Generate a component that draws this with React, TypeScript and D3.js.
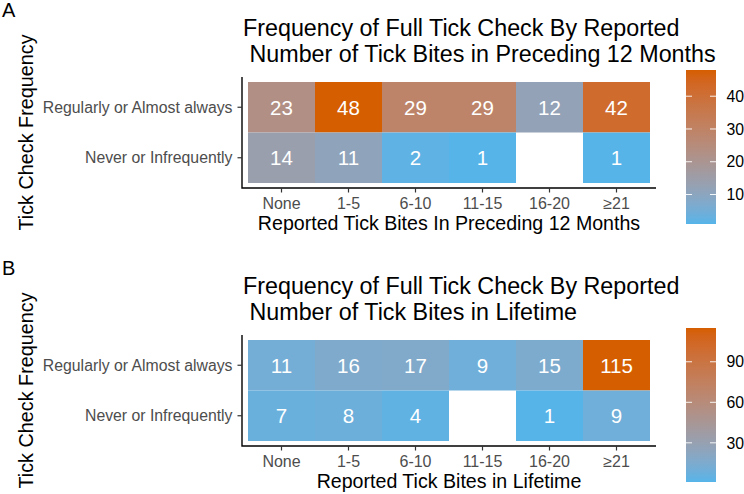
import * as d3 from 'd3'

// categories shared by both heatmaps
const biteBins = ['None', '1-5', '6-10', '11-15', '16-20', '≥21']
const checkFreq = ['Regularly or Almost always', 'Never or Infrequently']

// counts per row (null = no respondents)
const recentRegular = [23, 48, 29, 29, 12, 42]
const recentNever = [14, 11, 2, 1, null, 1]
const lifetimeRegular = [11, 16, 17, 9, 15, 115]
const lifetimeNever = [7, 8, 4, null, 1, 9]

const recentTicks = [10, 20, 30, 40]
const lifetimeTicks = [30, 60, 90]

const LOW = '#56B4E9'
const HIGH = '#D55E00'
const FONT = '"Liberation Sans", Arial, Helvetica, sans-serif'

type Panel = {
    tag: string
    title: string[]
    xTitle: string
    rows: (number | null)[][]
    ticks: number[]
    offset: number
}

const panels: Panel[] = [
    {
        tag: 'A',
        title: ['Frequency of Full Tick Check By Reported', ' Number of Tick Bites in Preceding 12 Months'],
        xTitle: 'Reported Tick Bites In Preceding 12 Months',
        rows: [recentRegular, recentNever],
        ticks: recentTicks,
        offset: 0
    },
    {
        tag: 'B',
        title: ['Frequency of Full Tick Check By Reported', ' Number of Tick Bites in Lifetime'],
        xTitle: 'Reported Tick Bites in Lifetime',
        rows: [lifetimeRegular, lifetimeNever],
        ticks: lifetimeTicks,
        offset: 258
    }
]

const HeatPanel = ({ p }: { p: Panel }) => {
    const o = p.offset
    const axisLeft = 242
    const axisRight = 656
    const panelTop = 77 + o
    const panelBottom = 188 + o

    const x = d3.scaleBand().domain(biteBins).range([248, 650])
    const y = d3.scaleBand().domain(checkFreq).range([82 + o, 183 + o])

    const values = p.rows.flat().filter(v => v != null) as number[]
    const [vmin, vmax] = d3.extent(values) as [number, number]
    const color = d3
        .scaleLinear<string>()
        .domain([vmin, vmax])
        .range([LOW, HIGH])
        .interpolate(d3.interpolateLab)

    const cells = checkFreq.flatMap((row, ri) =>
        biteBins.map((col, ci) => ({ row, col, v: p.rows[ri][ci] }))
    )

    // colour bar
    const barX = 686
    const barW = 30
    const bar = d3.scaleLinear().domain([vmin, vmax]).range([224 + o, 70 + o])
    const gradId = `grad-${p.tag}`
    const stops = d3.range(0, 1.0001, 0.05)

    return (
        <g fontFamily={FONT}>
            <text x={2} y={16.5 + o} fontSize={20}>
                {p.tag}
            </text>
            {p.title.map((t, i) => (
                <text key={i} x={243} y={36 + o + i * 25.8} fontSize={23.3} style={{ whiteSpace: 'pre' }}>
                    {t}
                </text>
            ))}

            {cells.map(c =>
                c.v == null ? null : (
                    <g key={c.row + c.col}>
                        <rect
                            x={x(c.col)}
                            y={y(c.row)}
                            width={x.bandwidth()}
                            height={y.bandwidth()}
                            fill={color(c.v)}
                        />
                        <text
                            x={x(c.col)! + x.bandwidth() / 2}
                            y={y(c.row)! + y.bandwidth() / 2}
                            dy="0.36em"
                            textAnchor="middle"
                            fill="white"
                            fontSize={20.5}
                        >
                            {c.v}
                        </text>
                    </g>
                )
            )}

            {/* axes */}
            <path
                d={`M${axisLeft},${panelTop}V${panelBottom}H${axisRight}`}
                fill="none"
                stroke="black"
                strokeWidth={1.4}
            />
            {biteBins.map(b => {
                const cx = x(b)! + x.bandwidth() / 2
                return (
                    <g key={b}>
                        <line x1={cx} x2={cx} y1={panelBottom} y2={panelBottom + 4.5} stroke="#333" strokeWidth={1.2} />
                        <text x={cx} y={209 + o} textAnchor="middle" fontSize={16} fill="#4d4d4d">
                            {b}
                        </text>
                    </g>
                )
            })}
            {checkFreq.map(r => {
                const cy = y(r)! + y.bandwidth() / 2
                return (
                    <g key={r}>
                        <line x1={axisLeft - 4.5} x2={axisLeft} y1={cy} y2={cy} stroke="#333" strokeWidth={1.2} />
                        <text x={232.5} y={cy} dy="0.36em" textAnchor="end" fontSize={15.8} fill="#4d4d4d">
                            {r}
                        </text>
                    </g>
                )
            })}
            <text x={(axisLeft + axisRight) / 2} y={230 + o} textAnchor="middle" fontSize={19.6}>
                {p.xTitle}
            </text>
            <text
                transform={`translate(32.5,${(panelTop + panelBottom) / 2}) rotate(-90)`}
                textAnchor="middle"
                fontSize={19.8}
            >
                Tick Check Frequency
            </text>

            {/* legend */}
            <defs>
                <linearGradient id={gradId} x1="0" y1="1" x2="0" y2="0">
                    {stops.map(s => (
                        <stop key={s} offset={s} stopColor={color(vmin + s * (vmax - vmin))} />
                    ))}
                </linearGradient>
            </defs>
            <rect x={barX} y={bar(vmax)} width={barW} height={bar(vmin) - bar(vmax)} fill={`url(#${gradId})`} />
            {p.ticks.map(t => (
                <g key={t}>
                    <line x1={barX} x2={barX + 6} y1={bar(t)} y2={bar(t)} stroke="white" strokeWidth={0.9} />
                    <line x1={barX + barW - 6} x2={barX + barW} y1={bar(t)} y2={bar(t)} stroke="white" strokeWidth={0.9} />
                    <text x={726.5} y={bar(t)} dy="0.36em" fontSize={15.8}>
                        {t}
                    </text>
                </g>
            ))}
        </g>
    )
}

export default function App() {
    return (
        <svg width={744} height={494} style={{ display: 'block', position: 'absolute', left: 0, top: 0 }}>
            <rect width={744} height={494} fill="white" />
            {panels.map(p => (
                <HeatPanel key={p.tag} p={p} />
            ))}
        </svg>
    )
}
